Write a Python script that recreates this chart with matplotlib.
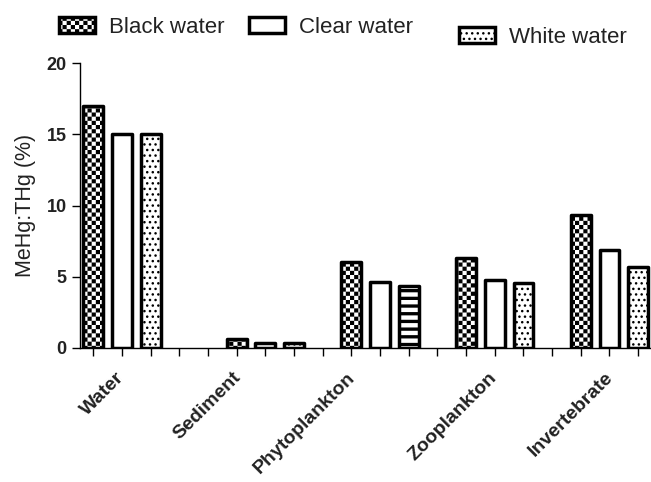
import numpy as np
import matplotlib
matplotlib.use("Agg")
import matplotlib.pyplot as plt
import matplotlib.hatch as mhatch
from matplotlib.path import Path

# ---------------- data ----------------
categories = ['Water', 'Sediment', 'Phytoplankton', 'Zooplankton', 'Invertebrate']
black_water = [17.0, 0.6, 6.0, 6.3, 9.35]
clear_water = [15.0, 0.35, 4.65, 4.75, 6.85]
white_water = [15.0, 0.35, 4.35, 4.55, 5.65]
series_names = ['Black water', 'Clear water', 'White water']
group_start = [0, 5, 9, 13, 17]          # slot of first bar of each group
label_pos = [1.2, 5.25, 9.25, 14.2, 18.25]  # category label anchors
yticks = [0, 5, 10, 15, 20]

# ---------------- custom hatches ----------------
HLW = 1.0
plt.rcParams['hatch.linewidth'] = HLW
SHR = HLW / 144.0  # compensate hatch stroke (unit cell = 1 inch)


class CheckerHatch(mhatch.HatchPatternBase):
    def __init__(self, hatch, density):
        self.n = 24 if hatch.count('O') else 0
        self.num_vertices = (self.n * self.n // 2) * 5

    def set_vertices_and_codes(self, vertices, codes):
        n = self.n
        s = 1.0 / n
        verts, cds = [], []
        for i in range(n):
            for j in range(n):
                if (i + j) % 2 == 0:
                    x0, y0 = i * s + SHR, j * s + SHR
                    x1, y1 = (i + 1) * s - SHR, (j + 1) * s - SHR
                    verts += [(x0, y0), (x1, y0), (x1, y1), (x0, y1), (x0, y0)]
                    cds += [Path.MOVETO, Path.LINETO, Path.LINETO, Path.LINETO, Path.CLOSEPOLY]
        vertices[:] = np.array(verts)
        codes[:] = np.array(cds)


class StripeHatch(mhatch.HatchPatternBase):
    def __init__(self, hatch, density):
        self.n = 13 if hatch.count('o') else 0
        self.num_vertices = self.n * 5

    def set_vertices_and_codes(self, vertices, codes):
        n = self.n
        s = 1.0 / n
        t = 0.033
        verts, cds = [], []
        for j in range(n):
            y0 = j * s + SHR
            y1 = j * s + t - SHR
            verts += [(-0.02, y0), (1.02, y0), (1.02, y1), (-0.02, y1), (-0.02, y0)]
            cds += [Path.MOVETO, Path.LINETO, Path.LINETO, Path.LINETO, Path.CLOSEPOLY]
        vertices[:] = np.array(verts)
        codes[:] = np.array(cds)


mhatch._hatch_types = [CheckerHatch if t is mhatch.LargeCircles
                       else StripeHatch if t is mhatch.SmallCircles
                       else t for t in mhatch._hatch_types]

# ---------------- figure ----------------
plt.rcParams['font.family'] = ['Liberation Sans', 'DejaVu Sans']
fig = plt.figure(figsize=(6.51, 4.82), dpi=100)
W, H = 651, 482
ax = fig.add_axes([80 / W, (H - 347.7) / H, (W - 80) / W, (347.7 - 63.3) / H])

gs = np.array(group_start)
bw = 0.69
lw = 2.5
b1 = ax.bar(gs, black_water, width=bw, facecolor='white', edgecolor='black',
            linewidth=lw, hatch='O', joinstyle='round', label=series_names[0], zorder=2)
b2 = ax.bar(gs + 1, clear_water, width=bw, facecolor='white', edgecolor='black',
            linewidth=lw, joinstyle='round', label=series_names[1], zorder=2)
b3 = ax.bar(gs + 2, white_water, width=bw, facecolor='white', edgecolor='black',
            linewidth=lw, hatch='...', joinstyle='round', label=series_names[2], zorder=2)
b3[2].set_hatch('o')  # phytoplankton white-water bar is striped

ax.set_xlim(-0.464, 19.45)
ax.set_ylim(0, 20)
ax.set_yticks(yticks)
ax.set_xticks(np.arange(20))
ax.set_xticklabels([])
ax.set_xticks(label_pos, minor=True)
ax.set_xticklabels(categories, minor=True, rotation=45, ha='right',
                   fontsize=14, fontweight='bold', color='#222222')
ax.tick_params(axis='x', which='minor', length=0, pad=15.5)
ax.tick_params(axis='x', which='major', length=5.5, width=1.0, direction='out')
ax.tick_params(axis='y', length=6, width=1.0, pad=3.5, labelsize=13, labelcolor='#222222')
for lbl in ax.get_yticklabels():
    lbl.set_fontweight('bold')

for s in ['top', 'right']:
    ax.spines[s].set_visible(False)
for s in ['left', 'bottom']:
    ax.spines[s].set_linewidth(1.0)
    ax.spines[s].set_zorder(3)

ax.set_ylabel('MeHg:THg (%)', fontsize=15.5, labelpad=8, color='#222222')

# legends
common = dict(frameon=False, fontsize=16, handlelength=1.6, handleheight=0.75,
              handletextpad=0.65, borderpad=0, borderaxespad=0, columnspacing=1.1,
              labelcolor='#222222')
leg1 = fig.legend(handles=[b1, b2], labels=series_names[:2], ncol=2, loc='upper left',
                  bbox_to_anchor=(59 / W, 1 - 17 / H), **common)
leg2 = fig.legend(handles=[b3], labels=series_names[2:], ncol=1, loc='upper left',
                  bbox_to_anchor=(459 / W, 1 - 27 / H), **common)

fig.savefig('out.png', dpi=100)
